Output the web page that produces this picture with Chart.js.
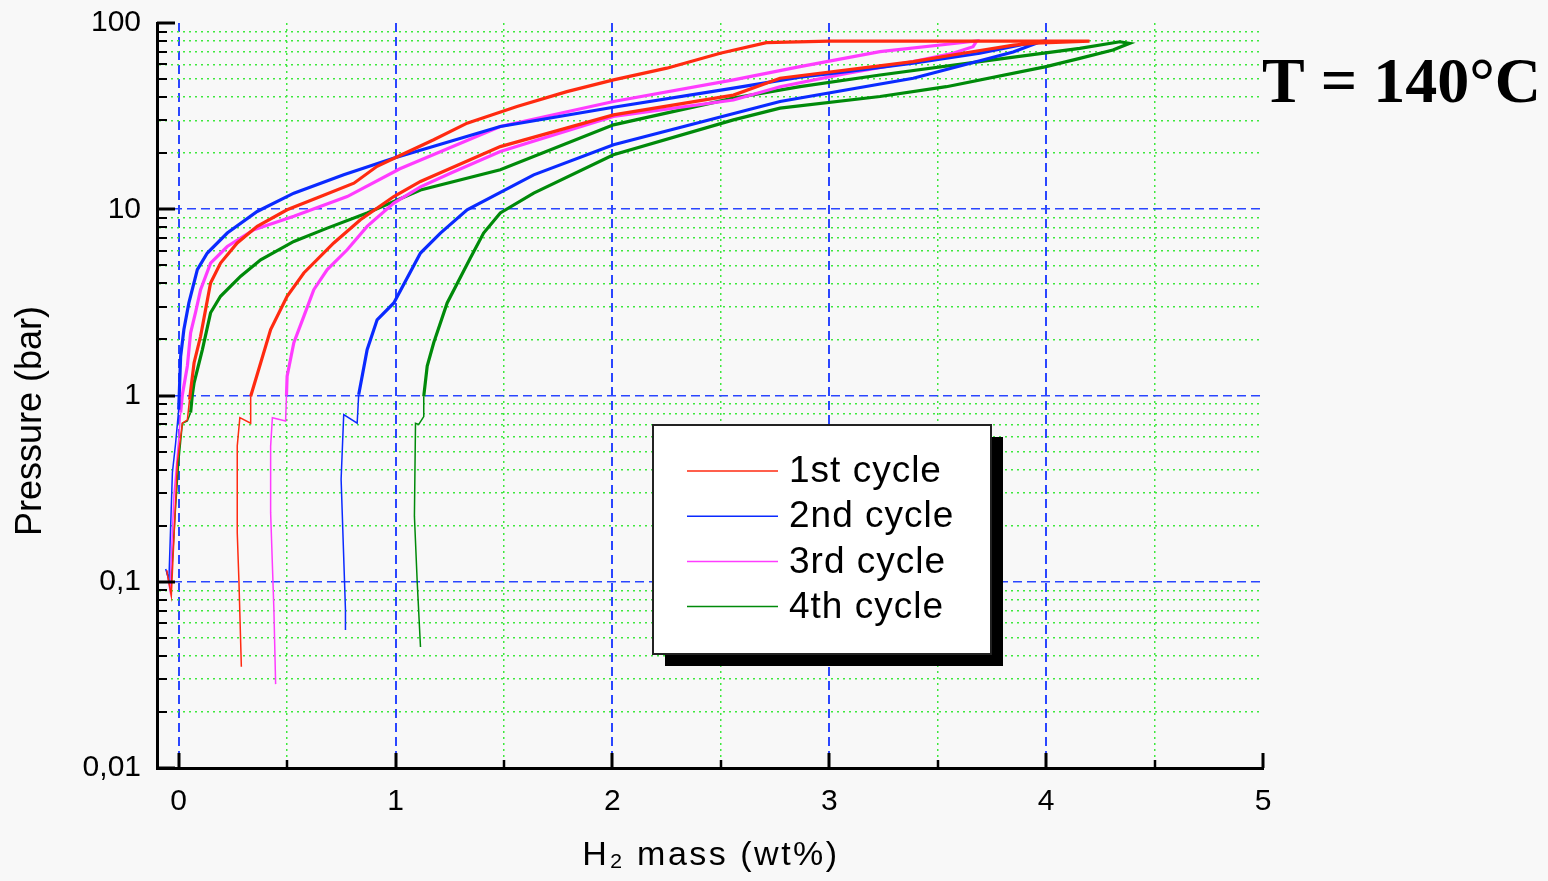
<!DOCTYPE html>
<html>
<head>
<meta charset="utf-8">
<title>H2 PCI 140°C</title>
<script src="https://cdn.jsdelivr.net/npm/chart.js@4.4.1/dist/chart.umd.min.js"></script>
<style>
  html, body { margin: 0; padding: 0; background: #f8f8f8; }
  canvas { display: block; }
</style>
</head>
<body>
<canvas id="pciChart" width="1548" height="881"></canvas>
<script>
// cycle labels
const cycleLabels = ['1st cycle', '2nd cycle', '3rd cycle', '4th cycle'];

// 1st cycle: absorption up the left branch, back down the right one
const cycle1Mass = [-0.055, -0.034, -0.006, 0.017, 0.04, 0.05, 0.071, 0.101, 0.124, 0.147, 0.193, 0.27, 0.362, 0.50, 0.654, 0.808, 0.915, 1.023, 1.176, 1.33, 1.56, 1.79, 2.005, 2.251, 2.497, 2.71, 3.0, 3.6, 4.2,
  3.95, 3.85, 3.617, 3.387, 2.773, 2.558, 2.005, 1.483, 1.115, 0.992, 0.838, 0.715, 0.577, 0.50, 0.424, 0.332, 0.332, 0.282, 0.27, 0.27, 0.278, 0.289];
const cycle1Pressure = [0.115, 0.084, 0.436, 0.71, 0.74, 0.95, 1.5, 2.08, 2.89, 4.02, 5.14, 6.59, 8.09, 9.94, 11.7, 13.8, 17.0, 19.5, 23.6, 29, 35.6, 42.8, 49.5, 57.2, 68.8, 78.4, 80, 80, 80,
  78, 76, 68.8, 62, 50.5, 41, 32.1, 21.7, 14.1, 11.7, 8.79, 6.59, 4.55, 3.41, 2.26, 0.99, 0.71, 0.76, 0.535, 0.184, 0.099, 0.035];

// 2nd cycle
const cycle2Mass = [-0.06, -0.045, -0.029, -0.014, 0.0, 0.009, 0.024, 0.047, 0.086, 0.132, 0.224, 0.362, 0.531, 0.761, 0.99, 1.483, 2.005, 2.558, 2.865, 3.08, 3.387, 3.694, 3.955, 4.0,
  3.97, 3.848, 3.387, 2.773, 2.005, 1.637, 1.33, 1.207, 1.115, 0.992, 0.915, 0.869, 0.83, 0.823, 0.761, 0.749, 0.769, 0.769];
const cycle2Pressure = [0.117, 0.103, 0.385, 0.557, 0.84, 1.62, 2.26, 3.14, 4.74, 5.82, 7.45, 9.73, 12.2, 15.3, 18.8, 27.8, 35.3, 44.7, 51.2, 54.8, 60.8, 68.8, 79.3, 80,
  79, 69.8, 50.5, 37.9, 22.2, 15.3, 9.94, 7.45, 5.82, 3.14, 2.55, 1.76, 1.01, 0.71, 0.79, 0.355, 0.071, 0.055];

// 3rd cycle
const cycle3Mass = [-0.055, -0.04, -0.022, 0.0, 0.009, 0.017, 0.04, 0.055, 0.078, 0.101, 0.147, 0.224, 0.347, 0.531, 0.777, 1.02, 1.483, 2.005, 2.558, 2.865, 3.234, 3.648, 3.68,
  3.663, 3.57, 3.387, 3.08, 2.773, 2.558, 2.005, 1.483, 1.253, 1.115, 0.992, 0.869, 0.777, 0.685, 0.623, 0.577, 0.531, 0.50, 0.497, 0.493, 0.432, 0.424, 0.424, 0.439, 0.447];
const cycle3Pressure = [0.115, 0.09, 0.29, 0.58, 0.81, 1.01, 1.44, 2.17, 2.8, 3.7, 5.14, 6.31, 7.77, 9.17, 11.7, 16.5, 27.8, 37.9, 49.5, 58.3, 70.2, 79.3, 80,
  74.6, 68.8, 62, 53.6, 45.5, 38.6, 31.5, 20.4, 15.6, 13.2, 10.8, 8.09, 6.06, 4.74, 3.7, 2.66, 1.92, 1.27, 1.0, 0.73, 0.76, 0.535, 0.235, 0.071, 0.0282];

// 4th cycle
const cycle4Mass = [-0.055, -0.037, -0.014, 0.0, 0.017, 0.04, 0.055, 0.063, 0.071, 0.109, 0.147, 0.193, 0.286, 0.378, 0.531, 0.685, 0.869, 1.115, 1.483, 2.005, 2.558, 2.865, 3.234, 3.694, 4.155, 4.34, 4.385,
  4.308, 4.155, 4.0, 3.54, 3.234, 2.773, 2.558, 2.005, 1.637, 1.483, 1.406, 1.345, 1.238, 1.176, 1.146, 1.13, 1.13, 1.107, 1.092, 1.087, 1.10, 1.115];
const cycle4Pressure = [0.113, 0.091, 0.255, 0.436, 0.71, 0.73, 0.81, 1.01, 1.17, 1.76, 2.78, 3.41, 4.37, 5.35, 6.72, 7.92, 9.55, 12.7, 16.3, 28.4, 39.5, 45.5, 52.6, 62, 73.1, 79.3, 77.8,
  71.6, 64.6, 58.3, 45.5, 40.3, 34.9, 30.2, 19.6, 12.2, 9.55, 7.45, 5.47, 3.14, 1.92, 1.44, 0.99, 0.77, 0.70, 0.71, 0.225, 0.099, 0.0446];

// axis ticks
const xTickValues = [0, 1, 2, 3, 4, 5];
const xTickLabels = ['0', '1', '2', '3', '4', '5'];
const xMinorTicks = [0.5, 1.5, 2.5, 3.5, 4.5];
const yTickValues = [0.01, 0.1, 1, 10, 100];
const yTickLabels = ['0,01', '0,1', '1', '10', '100'];
const yMinorSteps = [2, 3, 4, 5, 6, 7, 8, 9];

const xTitle = 'H₂ mass (wt%)';
const yTitle = 'Pressure (bar)';
const noteText = 'T = 140°C';

const cycleColors = ['#ff2a10', '#0a2aff', '#ff3cff', '#008a0a'];
const GRID_BLUE = '#2a46ff';
const GRID_GREEN = '#3ee83e';
const SANS = '"Liberation Sans", Arial, sans-serif';

function toPoints(mass, pressure) {
    return mass.map((m, i) => ({ x: m, y: pressure[i] }));
}

function isMajorX(v) {
    return xTickValues.some(t => Math.abs(t - v) < 1e-9);
}

function isMajorY(v) {
    return yTickValues.some(t => Math.abs(t - v) / t < 1e-6);
}

const seriesMass = [cycle1Mass, cycle2Mass, cycle3Mass, cycle4Mass];
const seriesPressure = [cycle1Pressure, cycle2Pressure, cycle3Pressure, cycle4Pressure];

const datasets = cycleLabels.map((label, i) => ({
    label: label,
    data: toPoints(seriesMass[i], seriesPressure[i]),
    borderColor: cycleColors[i],
    backgroundColor: cycleColors[i],
    showLine: true,
    pointRadius: 0,
    borderWidth: 3.2,
    tension: 0,
    segment: {
        // the sparse low pressure parts are drawn thin
        borderWidth: c => Math.min(c.p0.parsed.y, c.p1.parsed.y) < 0.78 ? 1.5 : 3.2
    }
}));

// inward tick marks on both axes
const axisTicks = {
    id: 'axisTicks',
    afterDatasetsDraw(chart) {
        const { ctx, chartArea, scales: { x, y } } = chart;
        ctx.save();
        ctx.strokeStyle = '#000';
        y.ticks.forEach(t => {
            const py = Math.round(y.getPixelForValue(t.value));
            const major = isMajorY(t.value);
            ctx.lineWidth = major ? 3 : 2;
            ctx.beginPath();
            ctx.moveTo(chartArea.left, py);
            ctx.lineTo(chartArea.left + (major ? 18 : 10), py);
            ctx.stroke();
        });
        x.ticks.forEach(t => {
            const px = Math.round(x.getPixelForValue(t.value));
            const major = isMajorX(t.value);
            ctx.lineWidth = major ? 3 : 2.5;
            ctx.beginPath();
            ctx.moveTo(px, chartArea.bottom);
            ctx.lineTo(px, chartArea.bottom - (major ? 15 : 8));
            ctx.stroke();
        });
        ctx.restore();
    }
};

// axis titles (the y one sits below the middle of the axis), boxed legend, temperature note
const decorations = {
    id: 'decorations',
    afterDraw(chart) {
        const ctx = chart.ctx;
        const area = chart.chartArea;
        ctx.save();
        ctx.fillStyle = '#000';
        ctx.textAlign = 'center';
        ctx.textBaseline = 'middle';

        ctx.font = '36px ' + SANS;
        ctx.save();
        ctx.translate(31, 421);
        ctx.rotate(-Math.PI / 2);
        ctx.fillText(yTitle, 0, 0);
        ctx.restore();

        ctx.font = '34px ' + SANS;
        ctx.letterSpacing = '2.5px';
        ctx.fillText(xTitle, (area.left + area.right) / 2 + 1, 856);
        ctx.letterSpacing = '0px';

        const bx = 653, by = 425, bw = 338, bh = 229;
        ctx.fillStyle = '#000';
        ctx.fillRect(bx + 12, by + 12, bw, bh);
        ctx.fillStyle = '#fff';
        ctx.fillRect(bx, by, bw, bh);
        ctx.lineWidth = 2;
        ctx.strokeStyle = '#222';
        ctx.strokeRect(bx, by, bw, bh);

        ctx.font = '37px ' + SANS;
        ctx.letterSpacing = '1px';
        ctx.textAlign = 'left';
        chart.data.datasets.forEach((ds, i) => {
            const ly = 471 + i * 45.2;
            ctx.strokeStyle = ds.borderColor;
            ctx.lineWidth = 1.5;
            ctx.beginPath();
            ctx.moveTo(687, ly);
            ctx.lineTo(778, ly);
            ctx.stroke();
            ctx.fillStyle = '#000';
            ctx.fillText(ds.label, 789, ly + 1);
        });
        ctx.letterSpacing = '0px';

        ctx.font = 'bold 64px "Liberation Serif", "Times New Roman", serif';
        ctx.textBaseline = 'alphabetic';
        ctx.fillStyle = '#000';
        ctx.fillText(noteText, 1262, 102);
        ctx.restore();
    }
};

Chart.defaults.font.family = SANS;
Chart.defaults.color = '#000';

const ctx = document.getElementById('pciChart').getContext('2d');
const pciChart = new Chart(ctx, {
    type: 'scatter',
    data: { datasets: datasets },
    options: {
        responsive: false,
        animation: false,
        layout: { padding: { left: 0, right: 285, top: 23, bottom: 0 } },
        plugins: {
            legend: { display: false },
            tooltip: { enabled: false }
        },
        scales: {
            x: {
                type: 'linear',
                min: -0.1,
                max: 5,
                afterBuildTicks: axis => {
                    axis.ticks = xTickValues.concat(xMinorTicks).sort((a, b) => a - b).map(v => ({ value: v }));
                },
                afterFit: axis => {
                    axis.height = 113;
                    axis.paddingLeft = 0;
                    axis.paddingRight = 0;
                },
                ticks: {
                    autoSkip: false,
                    maxRotation: 0,
                    padding: 16,
                    font: { size: 30 },
                    callback: v => {
                        const i = xTickValues.findIndex(t => Math.abs(t - v) < 1e-9);
                        return i >= 0 ? xTickLabels[i] : '';
                    }
                },
                grid: {
                    drawTicks: false,
                    color: c => {
                        if (!c.tick) return 'transparent';
                        if (c.tick.value >= 5) return 'transparent';
                        return isMajorX(c.tick.value) ? GRID_BLUE : GRID_GREEN;
                    },
                    lineWidth: c => c.tick && isMajorX(c.tick.value) ? 2 : 1.5
                },
                border: {
                    color: '#000',
                    width: 3,
                    dash: c => {
                        if (c.type !== 'tick') return [];
                        return isMajorX(c.tick.value) ? [9, 5] : [2, 4];
                    }
                }
            },
            y: {
                type: 'logarithmic',
                min: 0.01,
                max: 100,
                afterBuildTicks: axis => {
                    const vals = [];
                    yTickValues.forEach((d, k) => {
                        vals.push(d);
                        if (k < yTickValues.length - 1) {
                            yMinorSteps.forEach(m => vals.push(parseFloat((m * d).toPrecision(4))));
                        }
                    });
                    axis.ticks = vals.map(v => ({ value: v }));
                },
                afterFit: axis => {
                    axis.width = 157;
                    axis.paddingTop = 0;
                    axis.paddingBottom = 0;
                },
                ticks: {
                    autoSkip: false,
                    padding: 16,
                    font: { size: 30 },
                    callback: v => {
                        const i = yTickValues.findIndex(t => Math.abs(t - v) / t < 1e-6);
                        return i >= 0 ? yTickLabels[i] : '';
                    }
                },
                grid: {
                    drawTicks: false,
                    color: c => {
                        if (!c.tick) return 'transparent';
                        const v = c.tick.value;
                        if (v <= 0.0100001 || v >= 99.999) return 'transparent';
                        return isMajorY(v) ? GRID_BLUE : GRID_GREEN;
                    },
                    lineWidth: c => c.tick && isMajorY(c.tick.value) ? 1.6 : 1.5
                },
                border: {
                    color: '#000',
                    width: 3,
                    dash: c => {
                        if (c.type !== 'tick') return [];
                        return isMajorY(c.tick.value) ? [9, 5] : [2, 4];
                    }
                }
            }
        }
    },
    plugins: [axisTicks, decorations]
});
</script>
</body>
</html>
